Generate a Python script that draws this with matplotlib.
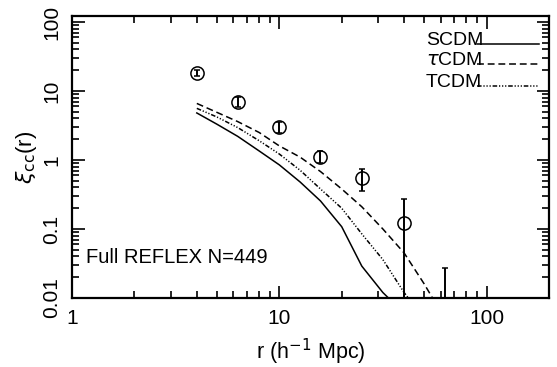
import matplotlib
matplotlib.use('Agg')
import matplotlib.pyplot as plt
import numpy as np

plt.rcParams['font.family'] = ['Liberation Sans', 'DejaVu Sans']
plt.rcParams['mathtext.fontset'] = 'dejavusans'

# Measured cluster-cluster correlation function
r_obs = [4.0, 6.3, 10.0, 15.8, 25.0, 40.0, 63.1]
xi_obs = [18.4, 7.0, 2.98, 1.12, 0.54, 0.121, 0.004]
xi_lo = [16.5, 5.9, 2.5, 0.91, 0.35, 0.0001, 0.001]
xi_hi = [20.1, 8.3, 3.5, 1.37, 0.73, 0.27, 0.027]

# Model predictions
r_mod = [4, 5, 6.3, 8, 10, 12.6, 15.8, 20, 25, 31.6, 40, 50, 56]
xi_scdm = [4.8, 3.3, 2.2, 1.35, 0.85, 0.48, 0.255, 0.108, 0.029, 0.012, 0.006, 0.003, 0.002]
xi_tau = [6.6, 4.9, 3.6, 2.5, 1.6, 1.1, 0.68, 0.38, 0.21, 0.1, 0.045, 0.016, 0.009]
xi_tcdm = [5.6, 4.2, 2.95, 1.9, 1.22, 0.71, 0.38, 0.2, 0.085, 0.036, 0.012, 0.005, 0.003]

model_names = ['SCDM', r'$\tau$CDM', 'TCDM']
model_styles = ['-', (0, (4.5, 2.5)), (0, (3, 1.2, 0.8, 1.2, 0.8, 1.2, 0.8, 1.2))]

fs = 15

fig = plt.figure(figsize=(5.57, 3.67), dpi=100)
ax = fig.add_axes([0.1293, 0.188, 0.8563, 0.7684])

for xi, ls in zip([xi_scdm, xi_tau, xi_tcdm], model_styles):
    ax.plot(r_mod, xi, color='black', linestyle=ls, linewidth=1.1)

yerr = [np.array(xi_obs) - np.array(xi_lo), np.array(xi_hi) - np.array(xi_obs)]
ax.errorbar(r_obs, xi_obs, yerr=yerr, fmt='o', mfc='none', mec='black', mew=1.1,
            ms=9.5, ecolor='black', elinewidth=1.4, capsize=2.2, capthick=1.2, zorder=3)

ax.set_xscale('log')
ax.set_yscale('log')
ax.set_xlim(1, 200)
ax.set_ylim(0.01, 122)

ax.set_xticks([1, 10, 100])
ax.set_xticklabels(['1', '10', '100'])
ax.set_yticks([0.01, 0.1, 1, 10, 100])
ax.set_yticklabels(['0.01', '0.1', '1', '10', '100'], rotation=90, va='center')

ax.tick_params(which='both', direction='in', top=True, right=True, labelsize=fs, width=1.2)
ax.tick_params(axis='x', which='major', length=9, pad=8)
ax.tick_params(axis='y', which='major', length=9, pad=8)
ax.tick_params(which='minor', length=5)
for s in ax.spines.values():
    s.set_linewidth(1.6)

ax.set_xlabel(r'r (h$^{-1}$ Mpc)', fontsize=15.5, labelpad=6)
ax.set_ylabel(r'$\xi_{\rm cc}$(r)', fontsize=16, labelpad=2)

# legend drawn as text with a line sample to its right
leg_y = [0.897, 0.826, 0.749]
for name, ls, y in zip(model_names, model_styles, leg_y):
    ax.text(0.742, y, name, transform=ax.transAxes, fontsize=14, ha='left', va='baseline')
    ax.plot([0.85, 0.98], [y + 0.003, y + 0.003], transform=ax.transAxes,
            color='black', linestyle=ls, linewidth=1.1)

ax.text(0.029, 0.142, 'Full REFLEX N=449', transform=ax.transAxes, fontsize=14.5,
        ha='left', va='center')

fig.savefig('out.png', dpi=100)
